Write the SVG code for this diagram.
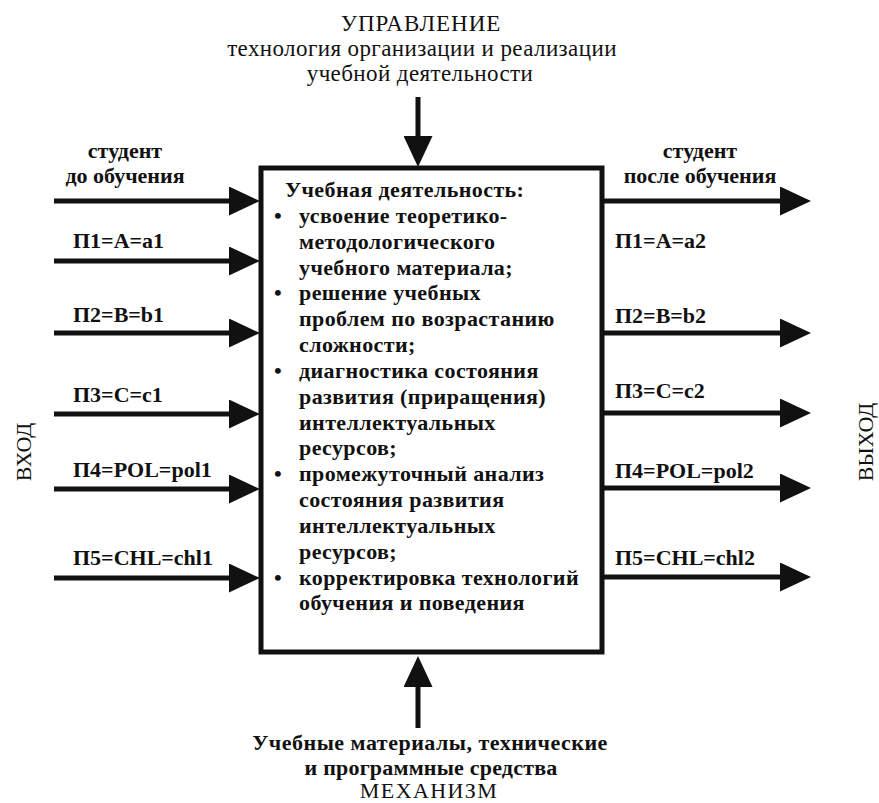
<svg xmlns="http://www.w3.org/2000/svg" width="879" height="803" viewBox="0 0 879 803">
<defs>
<marker id="ah" markerUnits="userSpaceOnUse" markerWidth="31" markerHeight="29" refX="3" refY="14.5" orient="auto">
<path d="M0,0 L31,14.5 L0,29 z" fill="#111"/>
</marker>
</defs>
<style>
text{fill:#111;font-size:22px}
.b{font-weight:bold}
.m{text-anchor:middle}
.w{font-size:23px;letter-spacing:0.4px}
.box{fill:#fff;stroke:#111;stroke-width:5}
.ln{stroke:#111;stroke-width:5;fill:none;marker-end:url(#ah)}
.bx text{font-weight:bold;letter-spacing:0.4px}
</style>
<rect width="879" height="803" fill="#fff"/>
<g id="connectors">
<line class="ln" x1="418" y1="97" x2="418" y2="139"/>
<line class="ln" x1="418" y1="728" x2="418" y2="684"/>
<line class="ln" x1="54" y1="201" x2="232" y2="201"/>
<line class="ln" x1="54" y1="261" x2="232" y2="261"/>
<line class="ln" x1="54" y1="333" x2="232" y2="333"/>
<line class="ln" x1="54" y1="414" x2="232" y2="414"/>
<line class="ln" x1="54" y1="489" x2="232" y2="489"/>
<line class="ln" x1="54" y1="578" x2="232" y2="578"/>
<line class="ln" x1="602" y1="201" x2="783" y2="201"/>
<line class="ln" x1="602" y1="333" x2="783" y2="333"/>
<line class="ln" x1="602" y1="413" x2="783" y2="413"/>
<line class="ln" x1="602" y1="488" x2="783" y2="488"/>
<line class="ln" x1="602" y1="577" x2="783" y2="577"/>
</g>
<g id="control">
<text font-family="Liberation Serif" class="m w" x="421" y="31" style="letter-spacing:1px">УПРАВЛЕНИЕ</text>
<text font-family="Liberation Serif" class="m w" x="422" y="56">технология организации и реализации</text>
<text font-family="Liberation Serif" class="m w" x="420" y="81">учебной деятельности</text>
</g>
<g id="activity">
<rect class="box" x="261" y="168" width="341" height="484"/>
<g class="bx">
<text font-family="Liberation Serif" x="285" y="197">Учебная деятельность:</text>
<text font-family="Liberation Serif" x="274" y="223">•</text>
<text font-family="Liberation Serif" x="299" y="223">усвоение теоретико-</text>
<text font-family="Liberation Serif" x="299" y="249">методологического</text>
<text font-family="Liberation Serif" x="299" y="275">учебного материала;</text>
<text font-family="Liberation Serif" x="274" y="300">•</text>
<text font-family="Liberation Serif" x="299" y="300">решение учебных</text>
<text font-family="Liberation Serif" x="299" y="326">проблем по возрастанию</text>
<text font-family="Liberation Serif" x="299" y="352">сложности;</text>
<text font-family="Liberation Serif" x="274" y="378">•</text>
<text font-family="Liberation Serif" x="299" y="378">диагностика состояния</text>
<text font-family="Liberation Serif" x="299" y="404">развития (приращения)</text>
<text font-family="Liberation Serif" x="299" y="430">интеллектуальных</text>
<text font-family="Liberation Serif" x="299" y="455">ресурсов;</text>
<text font-family="Liberation Serif" x="274" y="481">•</text>
<text font-family="Liberation Serif" x="299" y="481">промежуточный анализ</text>
<text font-family="Liberation Serif" x="299" y="507">состояния развития</text>
<text font-family="Liberation Serif" x="299" y="533">интеллектуальных</text>
<text font-family="Liberation Serif" x="299" y="559">ресурсов;</text>
<text font-family="Liberation Serif" x="274" y="585">•</text>
<text font-family="Liberation Serif" x="299" y="585">корректировка технологий</text>
<text font-family="Liberation Serif" x="299" y="610">обучения и поведения</text>
</g>
</g>
<g id="inputs">
<text font-family="Liberation Serif" class="b m" x="125" y="158">студент</text>
<text font-family="Liberation Serif" class="b m" x="125" y="183">до обучения</text>
<text font-family="Liberation Serif" class="b" x="73" y="248">П1=A=a1</text>
<text font-family="Liberation Serif" class="b" x="73" y="322">П2=B=b1</text>
<text font-family="Liberation Serif" class="b" x="73" y="402">П3=C=c1</text>
<text font-family="Liberation Serif" class="b" x="73" y="477">П4=POL=pol1</text>
<text font-family="Liberation Serif" class="b" x="73" y="565">П5=CHL=chl1</text>
<text font-family="Liberation Serif" transform="translate(31,452) rotate(-90)" text-anchor="middle">ВХОД</text>
</g>
<g id="outputs">
<text font-family="Liberation Serif" class="b m" x="700" y="158">студент</text>
<text font-family="Liberation Serif" class="b m" x="700" y="183">после обучения</text>
<text font-family="Liberation Serif" class="b" x="615" y="248">П1=A=a2</text>
<text font-family="Liberation Serif" class="b" x="615" y="323">П2=B=b2</text>
<text font-family="Liberation Serif" class="b" x="615" y="398">П3=C=c2</text>
<text font-family="Liberation Serif" class="b" x="615" y="478">П4=POL=pol2</text>
<text font-family="Liberation Serif" class="b" x="615" y="565">П5=CHL=chl2</text>
<text font-family="Liberation Serif" transform="translate(873,442) rotate(-90)" text-anchor="middle">ВЫХОД</text>
</g>
<g id="mechanism">
<text font-family="Liberation Serif" class="b m" x="430" y="750" style="letter-spacing:0.5px">Учебные материалы, технические</text>
<text font-family="Liberation Serif" class="b m" x="431" y="775" style="letter-spacing:0.2px">и программные средства</text>
<text font-family="Liberation Serif" class="m" x="429" y="798" style="letter-spacing:1.4px">МЕХАНИЗМ</text>
</g>
</svg>
